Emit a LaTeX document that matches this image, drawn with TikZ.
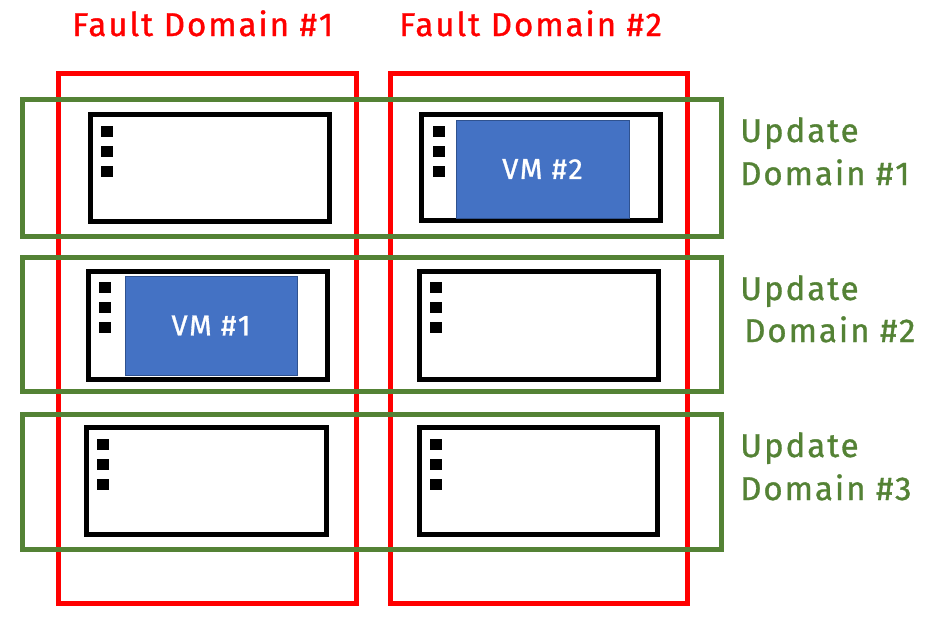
\documentclass[tikz,border=0pt]{standalone}
\usepackage{fontspec}
\setmainfont{Fira Sans}
\newfontfamily\diagfont[LetterSpace=6,FakeBold=1]{Fira Sans}
\usepackage{tikz}

\definecolor{faultred}{RGB}{255,0,0}
\definecolor{updgreen}{RGB}{84,130,53}
\definecolor{vmblue}{RGB}{68,114,196}
\definecolor{vmedge}{RGB}{47,82,143}

\tikzset{
  fault/.style={draw=faultred,line width=5pt},
  update/.style={draw=updgreen,line width=5pt},
  server/.style={draw=black,line width=5pt},
  vm/.style={fill=vmblue,draw=vmedge,line width=1pt},
  faultlabel/.style={text=faultred,anchor=base west,inner sep=0pt,font=\diagfont\fontsize{33}{40}\selectfont},
  updlabel/.style={text=updgreen,anchor=base west,inner sep=0pt,font=\diagfont\fontsize{33}{40}\selectfont},
  vmlabel/.style={text=white,inner sep=0pt,font=\diagfont\fontsize{29}{34}\selectfont}
}

% three status lights of a server
\newcommand{\srvleds}[2]{\foreach \dy in {0,20,40} {\fill (#1,#2+\dy) rectangle ++(12,11);}}

\begin{document}
\begin{tikzpicture}[line cap=butt,line join=miter,x=1pt,y=-1pt]
\useasboundingbox (0,0) rectangle (947,619);

% fault domains
\draw [fault] (58,73) rectangle (356,603);
\draw [fault] (390,73) rectangle (687,603);
\node [faultlabel] (fd1) at (72,36) {Fault Domain \#1};
\node [faultlabel] (fd2) at (399,36) {Fault Domain \#2};

% update domains
\draw [update] (22,99) rectangle (721,236);
\draw [update] (22,257) rectangle (721,391);
\draw [update] (22,414) rectangle (721,549);

\node [updlabel] (ud1a) at (740,142) {Update};
\node [updlabel] (ud1b) at (740,185) {Domain \#1};
\node [updlabel] (ud2a) at (740,300) {Update};
\node [updlabel] (ud2b) at (744,342) {Domain \#2};
\node [updlabel] (ud3a) at (740,457) {Update};
\node [updlabel] (ud3b) at (740,500) {Domain \#3};

% servers
\draw [server] (90,114) rectangle (329,221);
\draw [server] (421,114) rectangle (660,220);
\draw [server] (88,271) rectangle (327,379);
\draw [server] (419,271) rectangle (658,379);
\draw [server] (86,427) rectangle (326,534);
\draw [server] (419,427) rectangle (657,534);

\srvleds{101}{126}
\srvleds{433}{126}
\srvleds{99}{282}
\srvleds{430}{282}
\srvleds{97}{439}
\srvleds{430}{439}

% virtual machines
\draw [vm] (456,120) rectangle (629,218);
\node [vmlabel] (vm2) at (542.5,169) {VM \#2};
\draw [vm] (125,276) rectangle (297,375);
\node [vmlabel] (vm1) at (211,325.5) {VM \#1};
\end{tikzpicture}
\end{document}
